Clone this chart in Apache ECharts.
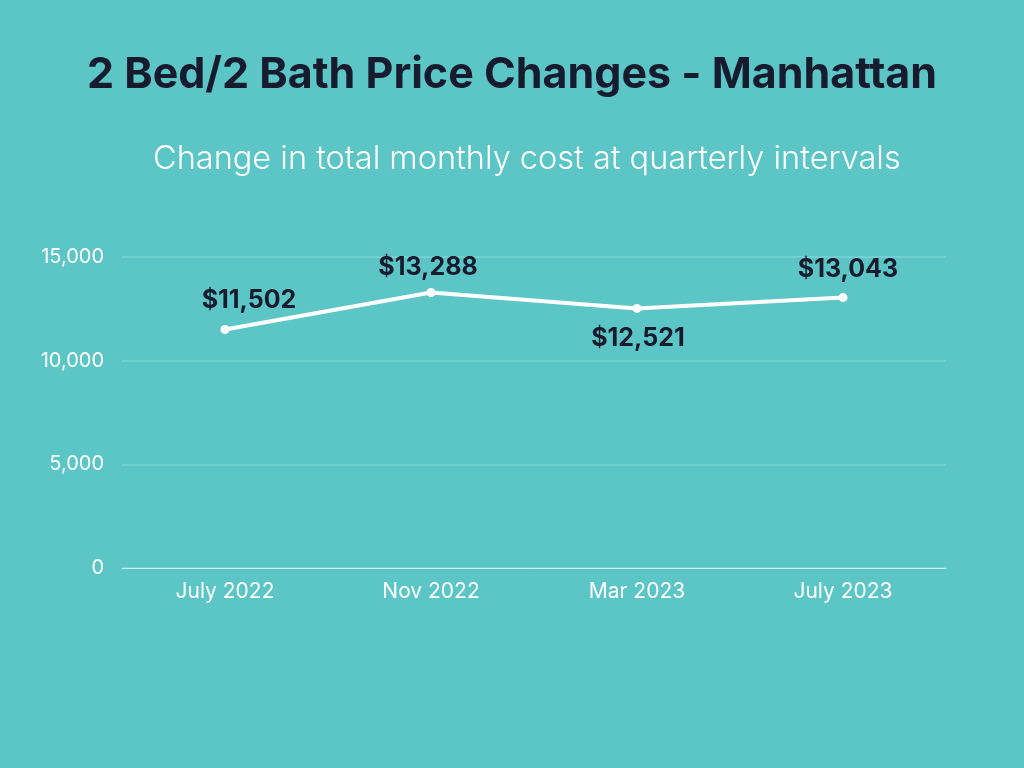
<!DOCTYPE html>
<html><head><meta charset="utf-8">
<script src="https://cdn.jsdelivr.net/npm/echarts@6/dist/echarts.min.js"></script>
<style>html,body{margin:0;padding:0;background:#5CC6C6;}#c{width:1024px;height:768px;}</style>
</head><body><div id="c"></div>
<script>
var categories = ['July 2022', 'Nov 2022', 'Mar 2023', 'July 2023'];
var values = [11502, 13288, 12521, 13043];
var yTicks = [0, 5000, 10000, 15000];
var labelPositions = ['top', 'top', 'bottom', 'top'];

var chart = echarts.init(document.getElementById('c'));
var labelOffsets = [[24, 1], [-3, 5], [1, 0], [5, 2]];
chart.setOption({
  backgroundColor: '#5CC6C6',
  title: [{
    text: '2 Bed/2 Bath Price Changes - Manhattan',
    left: 'center', top: 49,
    textStyle: {fontFamily: 'Inter', fontWeight: 'bold', fontSize: 43, color: '#161B2E'}
  }, {
    text: 'Change in total monthly cost at quarterly intervals',
    left: 148, top: 138,
    textStyle: {fontFamily: 'Inter', fontWeight: 300, fontSize: 32.5, color: '#FFFFFF'}
  }],
  grid: {left: 122, right: 78, top: 257, bottom: 200},
  xAxis: {
    type: 'category', data: categories, boundaryGap: true,
    axisLine: {lineStyle: {color: '#CDEFEF', width: 1}},
    axisTick: {show: false},
    axisLabel: {color: '#FFFFFF', fontFamily: 'Inter', fontSize: 21, margin: 13}
  },
  yAxis: {
    type: 'value', min: 0, max: 15000, interval: 5000,
    axisLine: {show: false}, axisTick: {show: false},
    splitLine: {lineStyle: {color: '#7DD3D3', width: 1.5}},
    axisLabel: {color: '#FFFFFF', fontFamily: 'Inter', fontSize: 20, margin: 18,
      formatter: function (v) { return yTicks.indexOf(v) >= 0 ? v.toLocaleString('en-US') : ''; }}
  },
  series: [{
    type: 'line',
    data: values.map(function (v, i) {
      return {value: v, label: {position: labelPositions[i], offset: labelOffsets[i]}};
    }),
    lineStyle: {color: '#FFFFFF', width: 4},
    itemStyle: {color: '#FFFFFF'},
    symbol: 'circle', symbolSize: 9,
    label: {show: true, distance: 13, color: '#161B2E', fontFamily: 'Inter', fontWeight: 'bold', fontSize: 25,
      formatter: function (p) { return '$' + p.value.toLocaleString('en-US'); }}
  }]
});
</script></body></html>
